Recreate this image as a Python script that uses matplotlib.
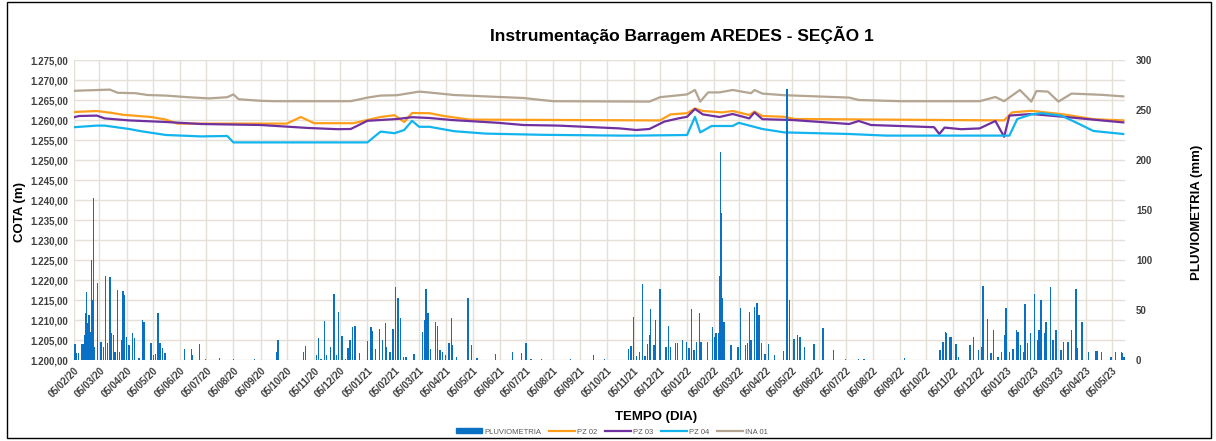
import matplotlib
matplotlib.use("Agg")
import matplotlib.pyplot as plt
import matplotlib.dates as mdates
import matplotlib.ticker as mticker
from matplotlib.lines import Line2D
from matplotlib.patches import Patch, Rectangle
import pandas as pd

plt.rcParams["font.family"] = ["Liberation Sans", "DejaVu Sans"]

START = "2020-02-05"
END = "2023-05-20"

# PZ / INA levels (m)
ina01_dates = ["2020-02-05", "2020-03-17", "2020-03-26", "2020-04-15", "2020-04-29", "2020-05-20",
               "2020-06-14", "2020-07-08", "2020-07-29", "2020-08-05", "2020-08-11", "2020-09-05",
               "2020-09-20", "2020-12-17", "2021-01-05", "2021-01-20", "2021-02-08", "2021-03-05",
               "2021-03-20", "2021-04-14", "2021-05-20", "2021-07-02", "2021-08-05", "2021-11-23",
               "2021-12-05", "2022-01-05", "2022-01-14", "2022-01-20", "2022-01-29", "2022-02-11",
               "2022-02-26", "2022-03-19", "2022-03-23", "2022-04-01", "2022-04-26", "2022-07-09",
               "2022-07-20", "2022-09-05", "2022-12-05", "2022-12-23", "2023-01-02", "2023-01-20",
               "2023-02-02", "2023-02-08", "2023-02-21", "2023-03-05", "2023-03-20", "2023-04-23",
               "2023-05-18"]
ina01 = [1267.3, 1267.6, 1266.8, 1266.7, 1266.25, 1266.1,
         1265.7, 1265.4, 1265.7, 1266.4, 1265.2, 1264.8,
         1264.7, 1264.7, 1265.6, 1266.1, 1266.2, 1267.1,
         1266.8, 1266.25, 1265.9, 1265.5, 1264.7, 1264.6,
         1265.7, 1266.4, 1267.5, 1264.6, 1266.9, 1266.9,
         1267.5, 1266.7, 1267.5, 1266.6, 1266.2, 1265.6,
         1265.0, 1264.7, 1264.7, 1265.75, 1264.7, 1267.5,
         1264.6, 1267.25, 1267.1, 1264.6, 1266.6, 1266.3,
         1265.9]

pz02_dates = ["2020-02-05", "2020-03-02", "2020-03-20", "2020-04-01", "2020-05-03", "2020-05-20",
              "2020-06-02", "2020-10-05", "2020-10-21", "2020-11-05", "2020-12-20", "2021-01-05",
              "2021-01-20", "2021-02-05", "2021-02-16", "2021-02-25", "2021-03-17", "2021-04-02",
              "2021-05-02", "2021-12-05", "2021-12-17", "2022-01-05", "2022-01-14", "2022-01-23",
              "2022-02-14", "2022-02-26", "2022-03-17", "2022-03-23", "2022-04-01", "2022-04-26",
              "2022-05-08", "2023-01-02", "2023-01-11", "2023-02-02", "2023-03-11", "2023-04-14",
              "2023-05-18"]
pz02 = [1262.0, 1262.25, 1261.75, 1261.3, 1260.75, 1260.1,
        1259.1, 1259.1, 1260.75, 1259.2, 1259.2, 1260.0,
        1260.75, 1261.2, 1259.5, 1261.75, 1261.7, 1261.0,
        1260.1, 1259.9, 1261.4, 1261.7, 1262.9, 1262.25,
        1261.9, 1262.25, 1261.25, 1262.1, 1261.0, 1260.8,
        1260.25, 1259.9, 1261.9, 1262.3, 1261.4, 1260.2,
        1259.9]

pz03_dates = ["2020-02-05", "2020-02-11", "2020-03-02", "2020-03-11", "2020-04-08", "2020-05-20",
              "2020-06-29", "2020-09-05", "2020-10-30", "2020-12-02", "2020-12-17", "2021-01-05",
              "2021-02-08", "2021-02-25", "2021-03-17", "2021-04-11", "2021-06-03", "2021-07-02",
              "2021-08-11", "2021-10-20", "2021-11-08", "2021-11-23", "2021-12-10", "2021-12-26",
              "2022-01-05", "2022-01-14", "2022-01-23", "2022-02-11", "2022-02-26", "2022-03-17",
              "2022-03-23", "2022-04-01", "2022-05-05", "2022-07-09", "2022-07-20", "2022-08-03",
              "2022-10-14", "2022-10-20", "2022-10-26", "2022-11-14", "2022-12-05", "2022-12-23",
              "2023-01-02", "2023-01-08", "2023-02-02", "2023-03-11", "2023-04-23", "2023-05-18"]
pz03 = [1260.7, 1261.0, 1261.1, 1260.4, 1259.9, 1259.5,
        1259.0, 1258.75, 1258.0, 1257.7, 1257.75, 1259.8,
        1260.25, 1260.7, 1260.5, 1260.0, 1259.3, 1258.75,
        1258.6, 1257.9, 1257.5, 1257.75, 1259.6, 1260.4,
        1260.8, 1262.75, 1261.4, 1260.75, 1261.5, 1260.4,
        1261.9, 1260.2, 1260.0, 1259.0, 1259.75, 1258.75,
        1258.2, 1256.5, 1258.1, 1257.7, 1257.9, 1259.75,
        1255.8, 1261.1, 1261.5, 1260.8, 1259.9, 1259.4]

pz04_dates = ["2020-02-05", "2020-03-02", "2020-03-11", "2020-04-08", "2020-04-20", "2020-05-20",
              "2020-06-29", "2020-07-29", "2020-08-05", "2021-01-05", "2021-01-20", "2021-02-05",
              "2021-02-16", "2021-02-25", "2021-03-05", "2021-03-17", "2021-04-14", "2021-05-20",
              "2021-07-23", "2021-10-20", "2021-11-08", "2022-01-05", "2022-01-14", "2022-01-20",
              "2022-02-02", "2022-02-26", "2022-03-05", "2022-04-01", "2022-04-26", "2022-07-09",
              "2022-08-20", "2023-01-08", "2023-01-17", "2023-02-02", "2023-02-14", "2023-03-08",
              "2023-03-23", "2023-04-14", "2023-05-18"]
pz04 = [1258.2, 1258.6, 1258.6, 1257.75, 1257.25, 1256.25,
        1255.9, 1256.0, 1254.4, 1254.4, 1257.1, 1256.7,
        1257.5, 1259.8, 1258.3, 1258.3, 1257.2, 1256.6,
        1256.3, 1256.1, 1256.1, 1256.25, 1260.8, 1256.9,
        1258.5, 1258.5, 1259.3, 1257.75, 1256.9, 1256.5,
        1256.1, 1256.1, 1260.25, 1261.4, 1261.7, 1261.1,
        1259.6, 1257.25, 1256.5]

# daily rainfall (mm), day number counted from START
rain_day = [0, 1, 2, 3, 5, 9, 11, 12, 13, 14, 15, 17, 18, 19, 20, 21, 22, 23, 27, 31, 34, 36, 38,
            41, 43, 45, 47, 50, 52, 54, 55, 56, 58, 60, 63, 67, 69, 74, 78, 80, 88, 91, 93, 96,
            98, 101, 104, 126, 134, 135, 143, 150, 166, 182, 206, 232, 233, 262, 264, 277, 279,
            282, 286, 288, 293, 296, 297, 300, 302, 306, 310, 313, 315, 318, 321, 326, 335, 339,
            341, 344, 349, 352, 356, 357, 361, 364, 367, 370, 373, 376, 379, 388, 398, 400, 402,
            404, 405, 407, 413, 415, 418, 421, 424, 428, 431, 432, 437, 450, 454, 460, 481, 501,
            511, 516, 522, 534, 567, 593, 606, 633, 636, 639, 642, 646, 649, 652, 655, 657, 658,
            662, 664, 669, 676, 679, 681, 687, 689, 695, 699, 702, 705, 708, 711, 714, 716, 723,
            729, 731, 733, 736, 737, 738, 739, 740, 742, 750, 758, 761, 767, 769, 771, 773, 777,
            780, 782, 785, 789, 793, 800, 810, 814, 817, 822, 826, 829, 834, 845, 855, 867, 881,
            896, 902, 948, 989, 992, 995, 996, 1000, 1002, 1007, 1010, 1023, 1027, 1033, 1036,
            1038, 1043, 1047, 1050, 1055, 1059, 1063, 1064, 1068, 1072, 1076, 1078, 1081, 1084,
            1086, 1089, 1092, 1097, 1100, 1102, 1104, 1108, 1110, 1115, 1118, 1121, 1127, 1130,
            1135, 1139, 1144, 1146, 1151, 1158, 1166, 1168, 1173, 1184, 1189, 1196, 1197, 1199]
rain_mm = [16, 16, 16, 7, 7, 16, 16, 25, 47, 68, 37, 45, 30, 28, 100, 60, 162, 13, 77, 18, 13, 84, 17,
           83, 27, 25, 8, 70, 8, 8, 20, 69, 65, 23, 15, 27, 22, 2, 40, 38, 17, 5, 6, 47,
           17, 12, 7, 11, 11, 5, 16, 1, 2, 1, 1, 8, 20, 8, 14, 5, 22,
           1, 39, 5, 13, 16, 66, 5, 48, 24, 1, 12, 20, 33, 34, 7, 19, 33,
           29, 11, 31, 20, 37, 13, 8, 31, 73, 62, 42, 3, 3, 6, 28, 40, 71,
           47, 31, 11, 38, 34, 10, 8, 5, 17, 42, 15, 3, 62, 15, 2, 6, 8,
           7, 17, 1, 1, 1, 5, 1, 11, 14, 43, 4, 8, 76, 4, 16, 25, 51,
           15, 40, 71, 13, 34, 13, 17, 17, 20, 18, 12, 51, 10, 18, 47, 18, 18,
           33, 23, 27, 27, 84, 208, 147, 62, 38, 15, 13, 52, 15, 17, 48, 20, 53,
           57, 45, 17, 6, 16, 5, 9, 271, 60, 21, 25, 23, 13, 16, 32, 10, 1,
           1, 1, 2, 10, 18, 28, 27, 23, 23, 16, 3, 15, 23, 10, 13,
           74, 41, 7, 30, 3, 8, 25, 52, 8, 11, 30, 28, 15, 8,
           56, 17, 27, 66, 20, 30, 60, 27, 38, 73, 20, 30, 10, 18,
           18, 30, 71, 12, 38, 8, 9, 9, 8, 3, 8, 8, 7, 3]

series = [
    ("PZ 02", pz02_dates, pz02, "#FF9E1B"),
    ("PZ 03", pz03_dates, pz03, "#7030A0"),
    ("PZ 04", pz04_dates, pz04, "#12B4EE"),
    ("INA 01", ina01_dates, ina01, "#B3A591"),
]
RAIN_COLOR = "#0A70C4"
GRID = "#E4E0D8"
TICK = "#3F3F3F"


def br_fmt(v, pos):
    s = f"{v:,.2f}"
    return s.replace(",", "X").replace(".", ",").replace("X", ".")


fig = plt.figure(figsize=(12.16, 4.41), dpi=100)
ax = fig.add_axes([74 / 1216, 1 - 360 / 441, (1125 - 74) / 1216, 300 / 441])

for name, d, v, c in series:
    ax.plot(pd.to_datetime(d), v, color=c, lw=1.6, zorder=3)

ax.set_ylim(1200, 1275)
ax.yaxis.set_major_locator(mticker.MultipleLocator(5))
ax.yaxis.set_major_formatter(mticker.FuncFormatter(br_fmt))
ax.set_xlim(pd.Timestamp(START), pd.Timestamp(END))
ax.xaxis.set_major_locator(mdates.MonthLocator(bymonthday=5))
ax.xaxis.set_major_formatter(mdates.DateFormatter("%d/%m/%y"))
ax.grid(True, color=GRID, lw=1)
ax.set_axisbelow(True)
ax.tick_params(length=0, labelsize=7, labelcolor=TICK, pad=4)
for lab in ax.get_yticklabels():
    lab.set_fontweight("bold")
for lab in ax.get_xticklabels():
    lab.set_rotation(45)
    lab.set_ha("right")
    lab.set_va("top")
    lab.set_rotation_mode("anchor")
    lab.set_fontweight("bold")
for s in ax.spines.values():
    s.set_visible(False)

ax2 = ax.twinx()
rain_dates = pd.Timestamp(START) + pd.to_timedelta(rain_day, unit="D")
ax2.bar(rain_dates, rain_mm, width=1.6, color=RAIN_COLOR, linewidth=0, zorder=2)
ax2.set_ylim(0, 300)
ax2.yaxis.set_major_locator(mticker.MultipleLocator(50))
ax2.tick_params(length=0, labelsize=7, labelcolor=TICK, pad=8)
for lab in ax2.get_yticklabels():
    lab.set_fontweight("bold")
for s in ax2.spines.values():
    s.set_visible(False)

fig.text(0.561, 1 - 35 / 441, "Instrumentação Barragem AREDES - SEÇÃO 1",
         ha="center", va="center", fontsize=12.5, fontweight="bold")
fig.text(20 / 1216, 1 - 212 / 441, "COTA (m)", rotation=90, ha="center", va="center",
         fontsize=9.5, fontweight="bold")
fig.text(1197 / 1216, 1 - 212 / 441, "PLUVIOMETRIA (mm)", rotation=90, ha="center",
         va="center", fontsize=9.5, fontweight="bold")
fig.text(656 / 1216, 1 - 417 / 441, "TEMPO (DIA)", ha="center", va="center",
         fontsize=9.5, fontweight="bold")

handles = [Patch(color=RAIN_COLOR, label="PLUVIOMETRIA")]
handles += [Line2D([], [], color=c, lw=1.6, label=n) for n, _, _, c in series]
fig.legend(handles=handles, loc="center", bbox_to_anchor=(612 / 1216, 1 - 432 / 441),
           ncol=5, frameon=False, fontsize=5.5, labelcolor="#595959",
           handlelength=3.4, handleheight=0.6, columnspacing=1.0, handletextpad=0.3)

fig.add_artist(Rectangle((7 / 1216, 3 / 441), 1204 / 1216, 436 / 441,
                         transform=fig.transFigure, fill=False, ec="black", lw=1))

fig.savefig("out.png", dpi=100)
